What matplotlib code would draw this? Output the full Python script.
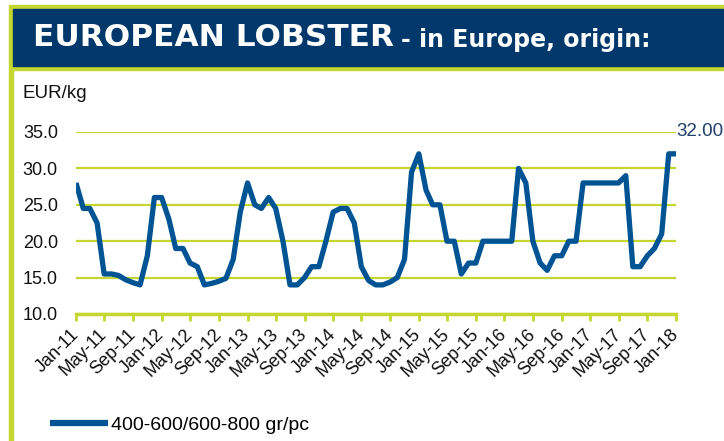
import pandas as pd
import matplotlib
matplotlib.use("Agg")
import matplotlib.pyplot as plt
from matplotlib.patches import Rectangle

plt.rcParams['font.family'] = ['Liberation Sans', 'DejaVu Sans']

# monthly prices, EUR/kg, Jan-11 .. Jan-18
months = pd.date_range("2011-01-01", "2018-01-01", freq="MS")
price = [28.0, 24.5, 24.5, 22.5, 15.5, 15.5, 15.3, 14.7, 14.3, 14.0, 18.0, 26.0,
         26.0, 23.0, 19.0, 19.0, 17.0, 16.5, 14.0, 14.2, 14.5, 14.9, 17.5, 24.0,
         28.0, 25.0, 24.5, 26.0, 24.5, 20.0, 14.0, 14.0, 15.0, 16.5, 16.5, 20.0,
         24.0, 24.5, 24.5, 22.5, 16.5, 14.6, 14.0, 14.0, 14.4, 15.0, 17.5, 29.5,
         32.0, 27.0, 25.0, 25.0, 20.0, 20.0, 15.5, 17.0, 17.0, 20.0, 20.0, 20.0,
         20.0, 20.0, 30.0, 28.0, 20.0, 17.0, 16.0, 18.0, 18.0, 20.0, 20.0, 28.0,
         28.0, 28.0, 28.0, 28.0, 28.0, 29.0, 16.5, 16.5, 18.0, 19.0, 21.0, 32.0,
         32.0]
series_name = "400-600/600-800 gr/pc"
yticks = [10, 15, 20, 25, 30, 35]

navy = "#00386b"
lime = "#c6d631"
blue = "#005493"

W, H = 724, 441
fig = plt.figure(figsize=(W / 100, H / 100), dpi=100)

def pbox(x, y, w, h):
    # pixel box (top-left origin) -> figure-fraction rectangle
    return Rectangle((x / W, 1 - (y + h) / H), w / W, h / H, transform=fig.transFigure)

# header band and frame
for (x, y, w, h), c, z in [((9, 5, 715, 65), lime, 0),
                           ((13, 9, 711, 57), navy, 1),
                           ((9, 70, 4, 371), lime, 0)]:
    r = pbox(x, y, w, h)
    r.set_color(c)
    r.set_zorder(z)
    fig.patches.append(r)

fig.text(33 / W, 1 - 46.5 / H, "EUROPEAN LOBSTER", color="white",
         fontsize=22.5, fontweight="bold", family="DejaVu Sans", va="baseline")
fig.text(401 / W, 1 - 46.5 / H, "- in Europe, origin:", color="white",
         fontsize=17, fontweight="bold", family="DejaVu Sans", va="baseline")

fig.text(23 / W, 1 - 93 / H, "EUR/kg", fontsize=13.5, va="center", color="#111111")

ax = fig.add_axes([76 / W, 1 - 314 / H, 600 / W, 182 / H])
ax.plot(months, price, color=blue, lw=3.8, solid_joinstyle="round",
        solid_capstyle="butt", label=series_name, zorder=3)

ax.set_xlim(months[0], months[-1])
ax.set_ylim(10, 35)
ax.set_yticks(yticks)
ax.set_yticklabels([f"{v:.1f}" for v in yticks])
ax.yaxis.grid(True, color=lime, lw=1.6)
ax.set_axisbelow(True)
for s in ["left", "right", "top"]:
    ax.spines[s].set_visible(False)
ax.spines["bottom"].set_color(lime)
ax.spines["bottom"].set_linewidth(2.5)
ax.tick_params(axis="y", length=0, pad=13, labelsize=13, labelcolor="#111111")

xt = months[::4]
ax.set_xticks(xt)
ax.set_xticklabels([d.strftime("%b-%y") for d in xt], rotation=45,
                   ha="right", va="center", rotation_mode="anchor")
ax.tick_params(axis="x", length=5, width=2, color=lime, pad=8,
               labelsize=13, labelcolor="#111111")

ax.annotate(f"{price[-1]:.2f}", xy=(months[-1], price[-1]), xytext=(0, 16),
            textcoords="offset points", ha="left", va="center",
            fontsize=13.5, color="#1f3f6b", annotation_clip=False)

ax.legend(loc="center left", bbox_to_anchor=(50 / W, 1 - 425 / H),
          bbox_transform=fig.transFigure, frameon=False, fontsize=14,
          handlelength=3.0, handletextpad=0.15, borderpad=0, borderaxespad=0)
ax.get_legend().get_lines()[0].set_linewidth(4.5)

fig.savefig("out.png", dpi=100)
